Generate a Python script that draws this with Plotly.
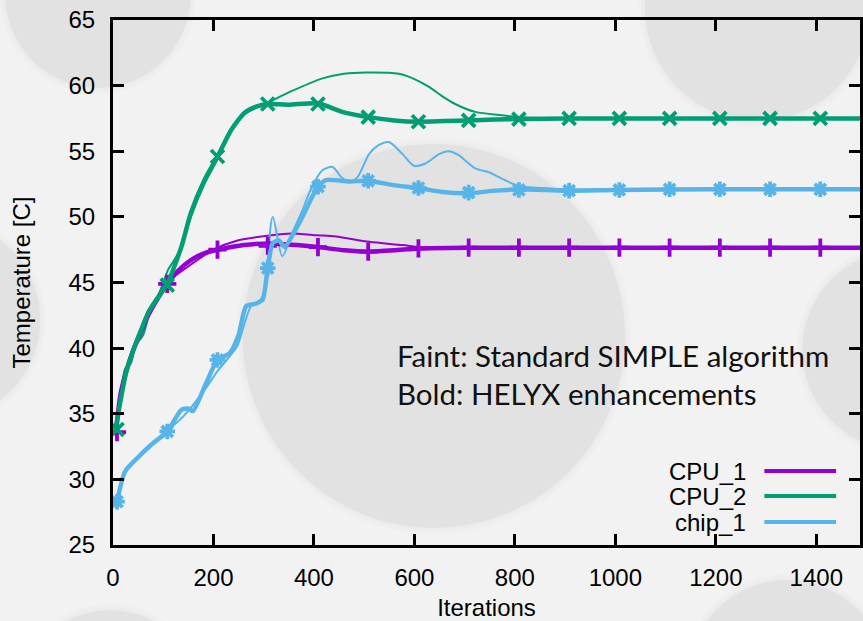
import plotly.graph_objects as go

# ---------------- data ----------------
series_names = ["CPU_1", "CPU_2", "chip_1"]
series_colors = ["#9400d3", "#009e73", "#56b4e9"]

# marker positions (every 100 iterations) on the HELYX runs
marker_iter = [8, 108, 208, 308, 408, 508, 608, 708, 808, 908, 1008, 1108, 1208, 1308, 1408]
cpu1_marker_temp = [33.6, 44.9, 47.5, 47.8, 47.7, 47.35, 47.6, 47.65, 47.65, 47.65, 47.65, 47.65, 47.65, 47.65, 47.65]
cpu2_marker_temp = [33.8, 44.8, 54.6, 58.6, 58.6, 57.6, 57.25, 57.35, 57.45, 57.5, 57.5, 57.5, 57.5, 57.5, 57.5]
chip1_marker_temp = [28.3, 33.65, 39.1, 46.1, 52.3, 52.75, 52.2, 51.85, 52.05, 52.0, 52.05, 52.1, 52.1, 52.1, 52.1]

# HELYX enhancements (bold)
cpu1_bold_iter = [5, 15, 27, 40, 53, 70, 83, 108, 130, 155, 180, 208, 261, 315, 367, 408, 460, 508, 560, 608, 708, 808, 1000, 1200, 1400, 1490]
cpu1_bold_temp = [33.4, 36.5, 38.3, 39.8, 41.0, 42.5, 43.4, 44.9, 45.9, 46.7, 47.2, 47.5, 47.85, 47.98, 47.85, 47.7, 47.45, 47.35, 47.45, 47.6, 47.65, 47.65, 47.65, 47.65, 47.65, 47.65]

cpu2_bold_iter = [5, 15, 27, 40, 53, 70, 83, 108, 136, 155, 182, 208, 235, 261, 285, 308, 350, 408, 456, 508, 560, 608, 660, 708, 760, 808, 900, 1000, 1200, 1400, 1490]
cpu2_bold_temp = [33.7, 36.0, 38.3, 39.8, 41.1, 42.7, 43.5, 44.9, 47.7, 50.3, 52.8, 54.6, 56.6, 57.9, 58.4, 58.6, 58.55, 58.65, 58.0, 57.6, 57.35, 57.25, 57.3, 57.35, 57.42, 57.45, 57.5, 57.5, 57.5, 57.5, 57.5]

chip1_bold_iter = [8, 24, 49, 75, 108, 136, 150, 159, 185, 208, 232, 250, 265, 285, 298, 308, 318, 330, 342, 357, 377, 396, 408, 424, 470, 508, 562, 608, 655, 708, 761, 808, 902, 1000, 1200, 1400, 1490]
chip1_bold_temp = [28.3, 30.6, 31.65, 32.6, 33.65, 35.3, 35.4, 35.2, 37.3, 39.1, 39.6, 41.0, 43.2, 43.4, 43.7, 46.1, 48.0, 48.2, 47.7, 48.6, 50.0, 51.5, 52.3, 52.8, 52.7, 52.75, 52.4, 52.2, 51.9, 51.8, 52.0, 52.1, 52.0, 52.05, 52.1, 52.1, 52.1]

# standard SIMPLE algorithm (faint)
cpu1_faint_iter = [5, 15, 27, 40, 53, 70, 83, 108, 149, 200, 248, 315, 354, 407, 444, 510, 576, 615, 700, 900, 1200, 1490]
cpu1_faint_temp = [33.3, 36.2, 38.5, 40.0, 41.2, 42.8, 43.6, 45.0, 46.2, 47.5, 48.2, 48.6, 48.74, 48.6, 48.5, 48.1, 47.85, 47.67, 47.65, 47.65, 47.65, 47.65]

cpu2_faint_iter = [5, 15, 25, 35, 45, 60, 75, 90, 110, 120, 135, 155, 182, 208, 235, 261, 290, 308, 351, 417, 460, 503, 569, 600, 629, 655, 681, 721, 774, 813, 900, 1200, 1490]
cpu2_faint_temp = [33.5, 36.5, 38.5, 38.8, 40.2, 41.0, 43.0, 44.0, 46.0, 46.6, 47.6, 50.0, 52.5, 54.4, 56.7, 57.8, 58.4, 58.7, 59.5, 60.55, 60.9, 61.0, 60.9, 60.5, 59.9, 59.2, 58.6, 58.0, 57.74, 57.6, 57.5, 57.5, 57.5]

chip1_faint_iter = [5, 24, 49, 75, 108, 140, 182, 209, 235, 248, 275, 288, 300, 318, 337, 357, 377, 396, 417, 437, 455, 470, 487, 510, 530, 549, 576, 599, 622, 650, 668, 688, 721, 748, 775, 807, 853, 902, 1000, 1200, 1490]
chip1_faint_temp = [28.2, 30.5, 31.7, 32.7, 33.7, 34.8, 36.8, 38.3, 39.5, 40.2, 43.2, 43.4, 44.2, 50.0, 47.0, 48.8, 50.5, 52.3, 53.55, 53.8, 53.0, 52.66, 53.05, 54.8, 55.5, 55.7, 54.8, 53.9, 54.07, 54.8, 55.0, 54.7, 53.7, 53.4, 52.9, 52.35, 52.2, 52.1, 52.05, 52.05, 52.05]

x_ticks = [0, 200, 400, 600, 800, 1000, 1200, 1400]
y_ticks = [25, 30, 35, 40, 45, 50, 55, 60, 65]

# ---------------- layout geometry (pixels) ----------------
W, H = 863, 621
PL, PR, PT, PB = 113, 863, 20, 545
FONT = "Liberation Sans"


def px_to_paper(px, py):
    return (px - PL) / (PR - PL), (PB - py) / (PB - PT)


def blob(cx, cy, r, alpha):
    x0, y0 = px_to_paper(cx - r, cy + r)
    x1, y1 = px_to_paper(cx + r, cy - r)
    return dict(type="circle", xref="paper", yref="paper", x0=x0, x1=x1, y0=y0, y1=y1,
                fillcolor=f"rgba(0,0,0,{alpha})", line=dict(width=0), layer="below")


fig = go.Figure()

faint = [(cpu1_faint_iter, cpu1_faint_temp), (cpu2_faint_iter, cpu2_faint_temp), (chip1_faint_iter, chip1_faint_temp)]
bold = [(cpu1_bold_iter, cpu1_bold_temp), (cpu2_bold_iter, cpu2_bold_temp), (chip1_bold_iter, chip1_bold_temp)]
marks = [cpu1_marker_temp, cpu2_marker_temp, chip1_marker_temp]
symbols = ["cross-thin", "x-thin", "asterisk"]

for name, color, (fx, fy) in zip(series_names, series_colors, faint):
    fig.add_trace(go.Scatter(x=fx, y=fy, mode="lines", name=name + " SIMPLE",
                             line=dict(color=color, width=2, shape="spline", smoothing=0.8),
                             showlegend=False, hoverinfo="skip"))

for name, color, (bx, by), my, sym in zip(series_names, series_colors, bold, marks, symbols):
    fig.add_trace(go.Scatter(x=bx, y=by, mode="lines", name=name,
                             line=dict(color=color, width=4.5, shape="spline", smoothing=0.6),
                             showlegend=False))
    fig.add_trace(go.Scatter(x=marker_iter, y=my, mode="markers", name=name,
                             marker=dict(symbol=sym, size=13, color=color,
                                         line=dict(color=color, width=3.8)),
                             showlegend=False))

# soft grey background discs
shapes = []
for cx, cy, r in [(98, -5, 93), (760, 8, 113), (435, 336, 192), (905, 350, 100),
                  (-60, 320, 100), (110, 700, 90), (790, 680, 100)]:
    shapes.append(blob(cx, cy, r + 6, 0.012))
    shapes.append(blob(cx, cy, r + 3, 0.012))
    shapes.append(blob(cx, cy, r, 0.038))

# key: label on the left, line sample on the right
annotations = []
key_rows = [471, 496, 522]
for name, color, ry in zip(series_names, series_colors, key_rows):
    xs0, ys = px_to_paper(767, ry)
    xs1, _ = px_to_paper(839, ry)
    shapes.append(dict(type="line", xref="paper", yref="paper", x0=xs0, x1=xs1, y0=ys, y1=ys,
                       line=dict(color=color, width=4)))
    xt, _ = px_to_paper(751, ry)
    annotations.append(dict(xref="paper", yref="paper", x=xt, y=ys, xanchor="right", yanchor="middle",
                            text=name, showarrow=False, font=dict(family=FONT, size=24, color="black")))

ax, ay = px_to_paper(396, 374)
annotations.append(dict(xref="paper", yref="paper", x=ax, y=ay, xanchor="left", yanchor="middle",
                        align="left", showarrow=False,
                        text="Faint: Standard SIMPLE algorithm<br>Bold: HELYX enhancements",
                        font=dict(family="Lato", size=29.5, color="#111111")))

axis_common = dict(showline=True, linecolor="black", linewidth=3, ticks="inside", ticklen=11,
                   tickwidth=3, tickcolor="black", showgrid=False, zeroline=False,
                   tickfont=dict(family=FONT, size=24, color="black"))

fig.update_layout(
    width=W, height=H,
    margin=dict(l=PL, r=W - PR, t=PT, b=H - PB, pad=0),
    paper_bgcolor="#f2f2f2", plot_bgcolor="rgba(0,0,0,0)",
    font=dict(family=FONT),
    shapes=shapes, annotations=annotations, showlegend=False,
    xaxis=dict(range=[0, 1487], tickvals=x_ticks, mirror="ticks",
               title=dict(text="Iterations", font=dict(family=FONT, size=24, color="black"), standoff=10),
               ticklabelstandoff=9, **axis_common),
    yaxis=dict(range=[25, 65], tickvals=y_ticks, mirror="ticks",
               title=dict(text="Temperature [C]", font=dict(family=FONT, size=24, color="black"), standoff=32),
               ticklabelstandoff=10, **axis_common),
)

fig.write_html("out.html")
